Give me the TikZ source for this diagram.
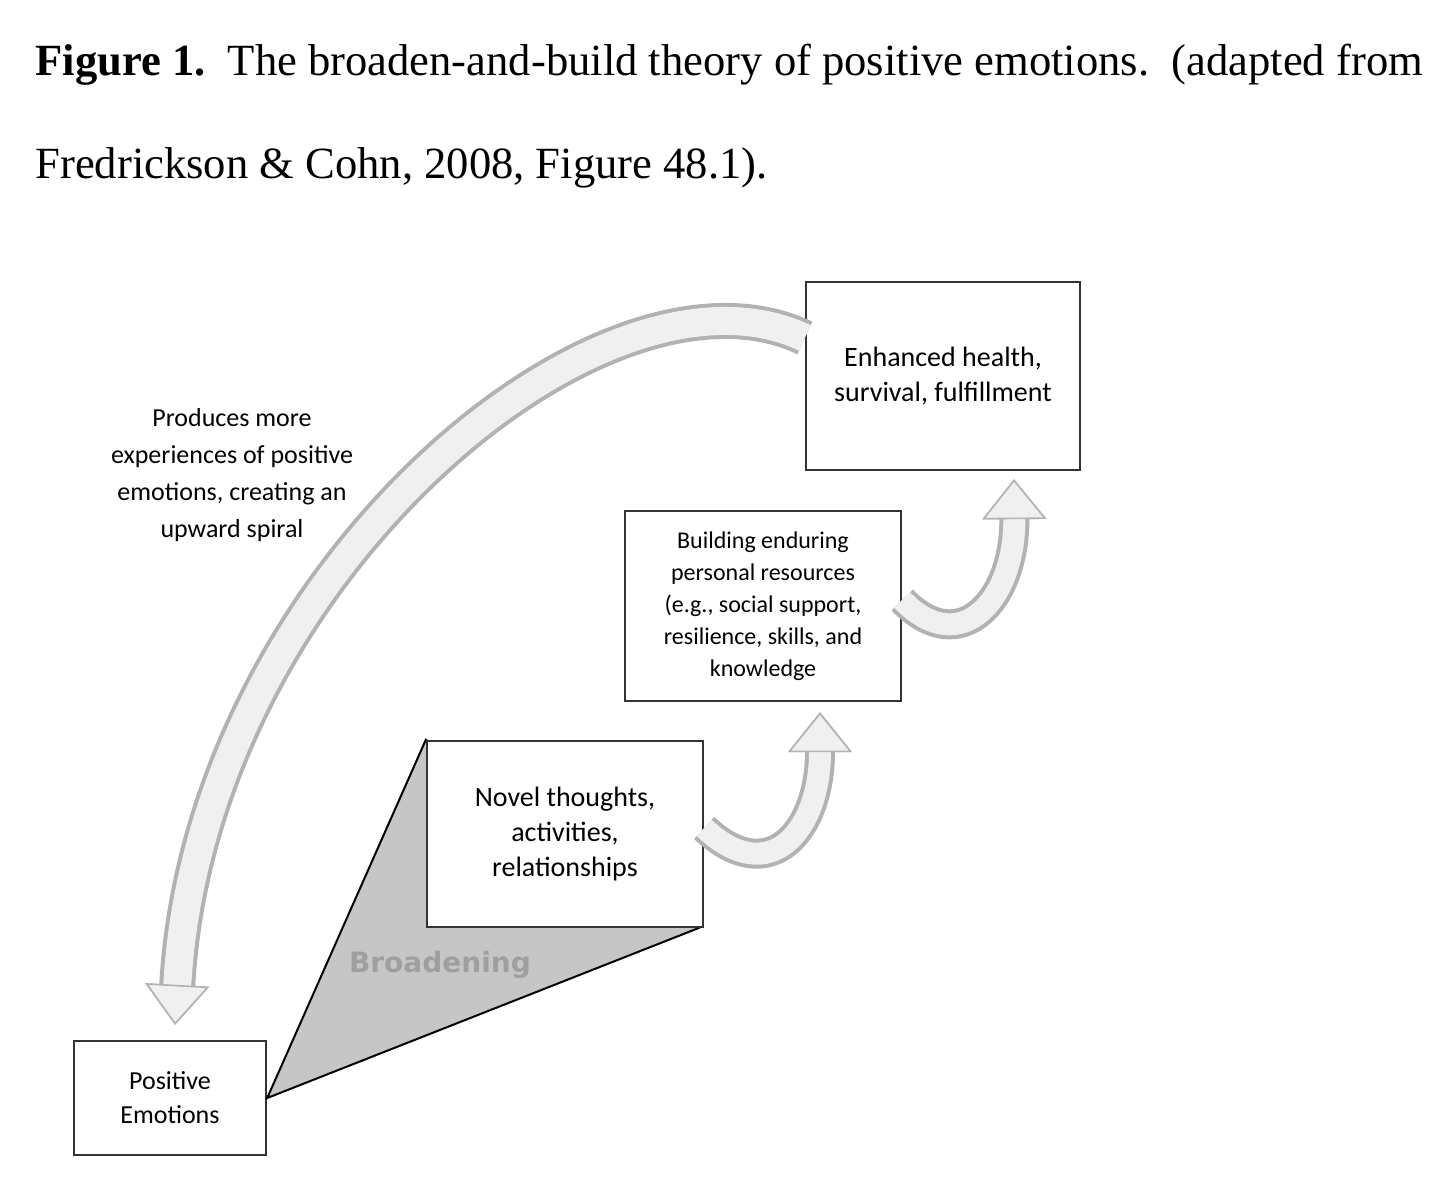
\documentclass[tikz,border=0pt]{standalone}
\usepackage{fontspec}
\setmainfont{Liberation Serif}
\setsansfont{Carlito}
\newfontfamily\broadfont{DejaVu Sans}
\usetikzlibrary{positioning,calc,arrows.meta}

\tikzset{
    stagebox/.style={draw=black!80, line width=1.2pt, fill=white, align=center,
        font=\sffamily\fontsize{14}{17.5}\selectfont, inner sep=0pt},
    tube/.style={line width=15, draw=gray!60,
        -{Triangle[length=20pt 0, width=32pt 0, line width=0.8pt 0, fill=gray!12, color=gray!60]}},
    tubein/.style={line width=11, draw=gray!12,
        -{Triangle[length=20pt 0, width=32pt 0, line width=0.8pt 0, fill=gray!12, color=gray!60]}},
    bigtube/.style={tube, line width=18},
    bigtubein/.style={tubein, line width=14},
}

\begin{document}
\begin{tikzpicture}[x=0.5pt, y=-0.5pt]
    \useasboundingbox[fill=white] (0,0) rectangle (1440,1195);

    % caption
    \node[anchor=base west, inner sep=0pt, font=\fontsize{22.3}{26}\selectfont] (cap1) at (35,75)
        {\textbf{Figure 1.}\ \ The broaden-and-build theory of positive emotions.\ \ (adapted from};
    \node[anchor=base west, inner sep=0pt, font=\fontsize{22.3}{26}\selectfont] (cap2) at (35,178)
        {Fredrickson \& Cohn, 2008, Figure 48.1).};

    % stages
    \node[stagebox, minimum width=96pt, minimum height=57pt, font=\sffamily\fontsize{13}{17}\selectfont]
        (pos) at (170,1098) {Positive\\Emotions};
    \node[stagebox, minimum width=138pt, minimum height=93pt] (novel) at (565,834)
        {Novel thoughts,\\activities,\\relationships};
    \node[stagebox, minimum width=138pt, minimum height=95pt, font=\sffamily\fontsize{12}{16}\selectfont]
        (build) at (763,606) {Building enduring\\personal resources\\(e.g., social support,\\resilience, skills, and\\knowledge};
    \node[stagebox, minimum width=137pt, minimum height=94pt] (enh) at (943,376)
        {Enhanced health,\\survival,\ fulfillment};

    % broadening wedge
    \draw[fill=gray!45, draw=black, line width=1pt]
        (pos.east) -- (novel.north west) -- ($(novel.south east)+(-6,0)$) -- cycle;
    \node[font=\broadfont\bfseries\fontsize{14}{16}\selectfont, text=gray!75] (broad) at (440,965) {Broadening};
    \node[stagebox, minimum width=138pt, minimum height=93pt] at (novel) {Novel thoughts,\\activities,\\relationships};

    % small upward arrows
    \coordinate (a1) at ($(novel.east)+(0,-6)$);
    \coordinate (a2) at ($(build.south)+(57,10)$);
    \coordinate (b1) at ($(build.east)+(0,-6)$);
    \coordinate (b2) at ($(enh.south)+(71,8)$);
    \foreach \s in {tube, tubein}{
        \draw[\s] (a1) .. controls (770,890) and (820,830) .. (a2);
        \draw[\s] (b1) .. controls (960,660) and (1015,600) .. (b2);
    }

    % big return arc
    \coordinate (c1) at ($(enh.north west)!0.3!(enh.south west)$);
    \coordinate (c2) at ($(pos.north)+(5,-15)$);
    \foreach \s in {bigtube, bigtubein}{
        \draw[\s] (c1) .. controls (600,240) and (200,580) .. (c2);
    }
    \node[font=\sffamily\fontsize{13}{18.5}\selectfont, align=center] (spiral) at (232,475)
        {Produces more\\experiences of positive\\emotions,\ creating an\\upward spiral};
\end{tikzpicture}
\end{document}
